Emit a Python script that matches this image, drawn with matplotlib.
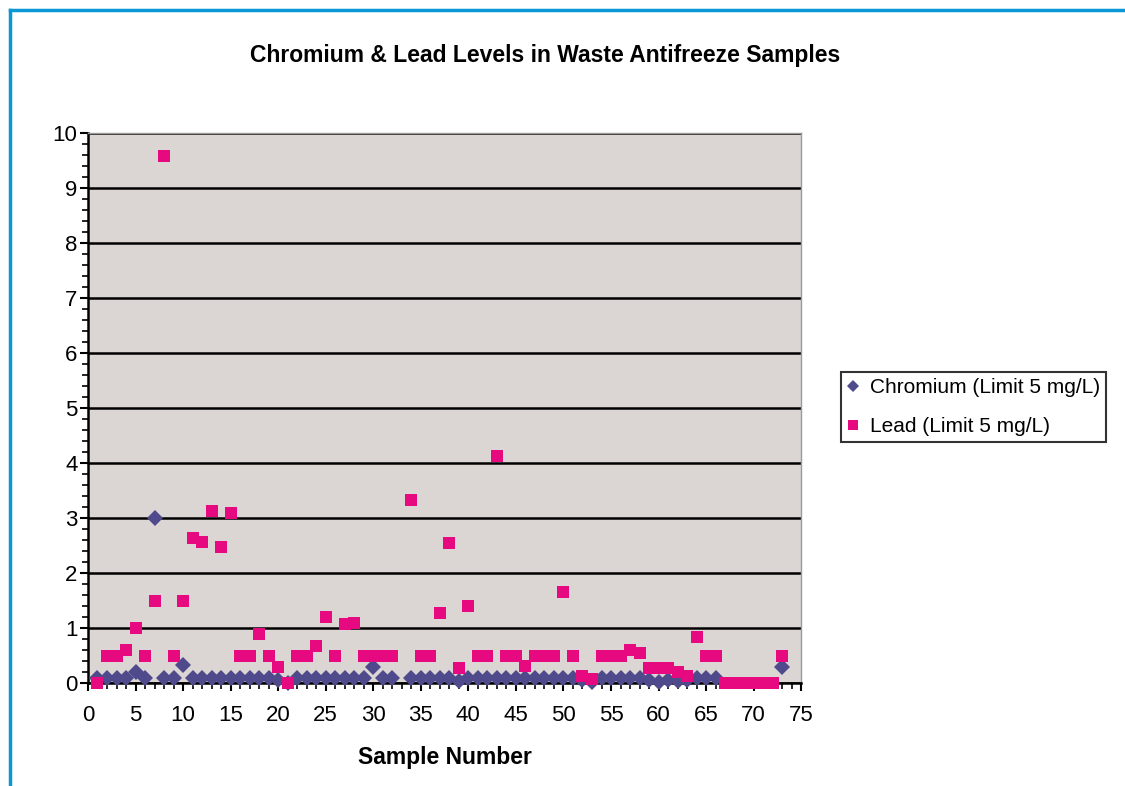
import numpy as np
import matplotlib
matplotlib.use('Agg')
import matplotlib.pyplot as plt
from matplotlib.ticker import MultipleLocator

plt.rcParams['font.family'] = ['Liberation Sans', 'DejaVu Sans']

samples = np.arange(1, 74)

# Lead (mg/L), samples 1..73, NaN = no point
lead = [0.0, 0.5, 0.5, 0.6, 1.0, 0.5, 1.5, 9.58, 0.5, 1.5,
        2.63, 2.57, 3.13, 2.48, 3.1, 0.5, 0.5, 0.9, 0.5, 0.3,
        0.0, 0.5, 0.5, 0.68, 1.2, 0.5, 1.07, 1.1, 0.5, 0.5,
        0.5, 0.5, np.nan, 3.33, 0.5, 0.5, 1.27, 2.55, 0.27, 1.4,
        0.5, 0.5, 4.13, 0.5, 0.5, 0.31, 0.5, 0.5, 0.5, 1.65,
        0.5, 0.12, 0.08, 0.5, 0.5, 0.5, 0.6, 0.55, 0.27, 0.27,
        0.27, 0.2, 0.12, 0.83, 0.5, 0.5, 0.0, 0.0, 0.0, 0.0,
        0.0, 0.0, 0.5]

# Chromium (mg/L)
chromium = [0.1, 0.1, 0.1, 0.1, 0.2, 0.1, 3.0, 0.1, 0.1, 0.33,
            0.1, 0.1, 0.1, 0.1, 0.1, 0.1, 0.1, 0.1, 0.1, 0.05,
            0.0, 0.1, 0.1, 0.1, 0.1, 0.1, 0.1, 0.1, 0.1, 0.3,
            0.1, 0.1, np.nan, 0.1, 0.1, 0.1, 0.1, 0.1, 0.03, 0.1,
            0.1, 0.1, 0.1, 0.1, 0.1, 0.1, 0.1, 0.1, 0.1, 0.1,
            0.1, 0.05, 0.02, 0.1, 0.1, 0.1, 0.1, 0.1, 0.05, 0.02,
            0.05, 0.03, 0.05, 0.1, 0.1, 0.1, np.nan, np.nan, np.nan, np.nan,
            np.nan, np.nan, 0.3]

CR_COLOR = '#4f4a8c'
PB_COLOR = '#e6097f'

fig = plt.figure(figsize=(11.25, 7.86), dpi=100)
ax = fig.add_axes([0.0782, 0.131, 0.634, 0.6998])
ax.set_facecolor('#dbd6d3')

ax.plot(samples, chromium, 'D', color=CR_COLOR, markersize=8, markeredgewidth=0,
        label='Chromium (Limit 5 mg/L)', zorder=3, clip_on=False)
ax.plot(samples, lead, 's', color=PB_COLOR, markersize=9, markeredgewidth=0,
        label='Lead (Limit 5 mg/L)', zorder=3, clip_on=False)

ax.set_xlim(0, 75)
ax.set_ylim(0, 10)
ax.xaxis.set_major_locator(MultipleLocator(5))
ax.xaxis.set_minor_locator(MultipleLocator(1))
ax.yaxis.set_major_locator(MultipleLocator(1))
ax.yaxis.set_minor_locator(MultipleLocator(0.2))
ax.grid(True, which='major', axis='y', color='black', lw=1.8, zorder=1)
ax.set_axisbelow(True)
ax.tick_params(which='major', length=6, width=1.5, labelsize=16, color='black')
ax.tick_params(which='minor', length=4, width=1.2, color='black')
ax.tick_params(axis='x', which='major', pad=10)
ax.tick_params(axis='y', which='major', pad=1.5)

for side in ['left', 'bottom']:
    ax.spines[side].set_linewidth(1.8)
    ax.spines[side].set_color('black')
for side in ['top', 'right']:
    ax.spines[side].set_linewidth(1.0)
    ax.spines[side].set_color('#9a9a9a')

ax.set_xlabel('Sample Number', fontsize=16.5, fontweight='bold', labelpad=14)

fig.text(0.485, 0.930, 'Chromium & Lead Levels in Waste Antifreeze Samples',
         ha='center', va='center', fontsize=16.5, fontweight='bold')

leg = fig.legend(loc='center left', bbox_to_anchor=(0.738, 0.482), fontsize=15,
                 frameon=True, fancybox=False, edgecolor='black',
                 handlelength=0.6, handletextpad=0.5, borderpad=0.3,
                 labelspacing=0.95, markerscale=0.75)
leg.get_frame().set_linewidth(1.5)

# blue page border (top and left)
fig.add_artist(plt.Line2D([0.0085, 1.0], [0.987, 0.987], transform=fig.transFigure,
                          color='#0a97d6', lw=2.5))
fig.add_artist(plt.Line2D([0.0085, 0.0085], [0.0, 0.987], transform=fig.transFigure,
                          color='#0a97d6', lw=2.5))

plt.savefig('out.png', dpi=100)
plt.close()
